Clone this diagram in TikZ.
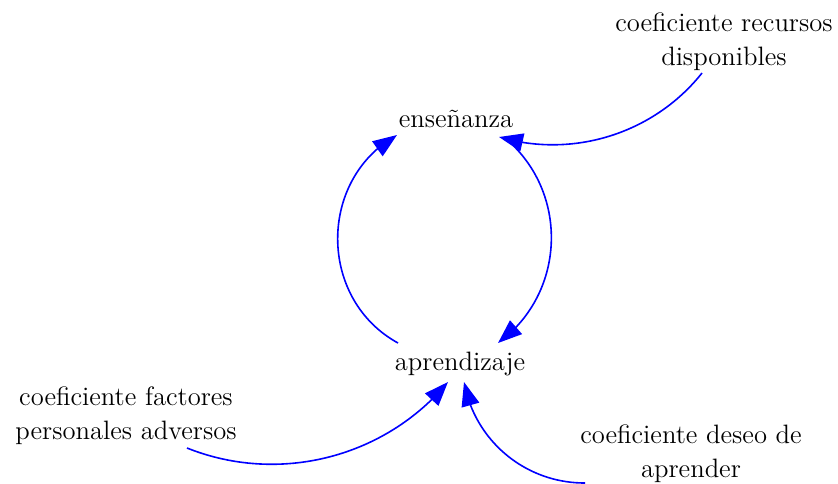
\documentclass[tikz,border=0pt]{standalone}
\usetikzlibrary{arrows.meta, bending}

\tikzset{
  var/.style={font=\fontsize{13.3}{17}\selectfont, align=center, inner sep=2pt},
  link/.style={draw=blue, line width=0.8pt, -{Triangle[length=12pt,width=9pt]}}
}

\begin{document}
\begin{tikzpicture}[x=0.5pt, y=0.5pt]
  \useasboundingbox (0,0) rectangle (838,-483);
  % Variables
  \node[var, anchor=base] (ens) at (456,-127) {enseñanza};
  \node[var, anchor=base] (apr) at (460,-370) {aprendizaje};
  \node[var] (crd) at (724,-41.5) {coeficiente recursos\\disponibles};
  \node[var] (cfp) at (126,-416) {coeficiente factores\\personales adversos};
  \node[var] (cda) at (691,-453.5) {coeficiente deseo de\\aprender};
  % Loop between the two variables
  \draw[link] ([shift={(-62,27)}]apr.base) to[bend left=61, looseness=1.12] ([shift={(-59,-8)}]ens.base);
  \draw[link] ([shift={(49,-11)}]ens.base) to[bend left=52, looseness=1.05] ([shift={(38,27)}]apr.base);
  % Coefficients
  \draw[link] ([shift={(-22,-31.5)}]crd.center) to[bend left=34, looseness=0.93] ([shift={(43,-10)}]ens.base);
  \draw[link] ([shift={(61,-32)}]cfp.center) to[bend right=36, looseness=0.94] ([shift={(-12,-12)}]apr.base);
  \draw[link] ([shift={(-106,-29.5)}]cda.center) to[bend left=40, looseness=0.97] ([shift={(4,-12)}]apr.base);
\end{tikzpicture}
\end{document}
